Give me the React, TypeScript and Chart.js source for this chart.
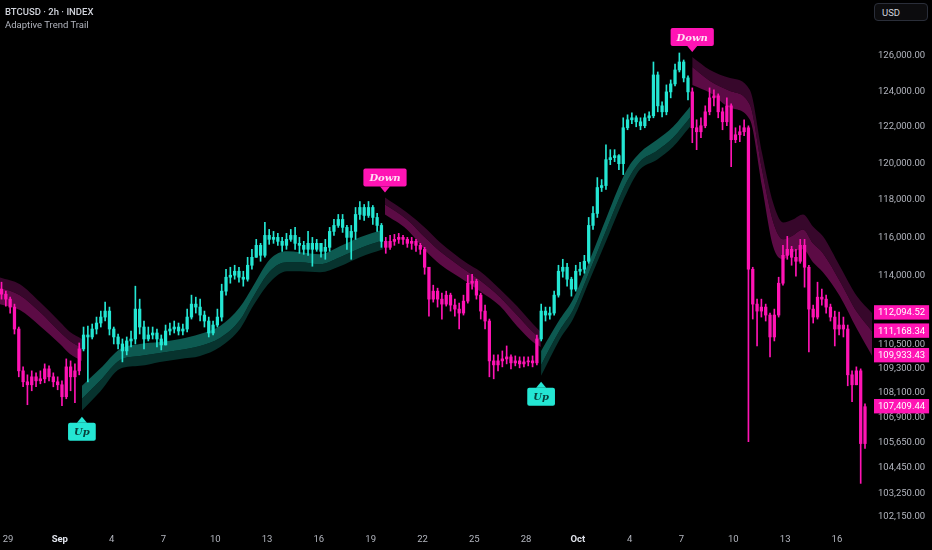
import { useEffect, useRef } from 'react';
import { Chart, registerables } from 'chart.js';

Chart.register(...registerables);

// 6h candles starting Aug 28 15:00 (day 0 = Aug 29)
const candleStartDay = -0.375;
const candleStepDays = 0.25;
const firstOpen = 113312;

const closes = [
  113055, 112799, 112391, 111275, 109176, 108633, 108486, 108880, 108682, 108781,
  109275, 108880, 108633, 108486, 107897, 109374, 108880, 109176, 110271, 110973,
  110873, 111275, 111579, 111882, 112187, 111275, 110873, 110521, 110171, 110672,
  110772, 112289, 111376, 110772, 110973, 111074, 110772, 110471, 111174, 111275,
  111376, 111174, 111275, 111882, 112544, 112391, 111984, 111680, 111074, 111477,
  111882, 113209, 113930, 114033, 114240, 113930, 113827, 114552, 114968, 115595,
  115072, 116120, 115910, 116015, 115805, 115595, 115910, 116120, 115700, 115595,
  115386, 115700, 115386, 115700, 115281, 115490, 116331, 116648, 116966, 116543,
  116015, 116331, 117232, 117605, 117179, 117605, 117072, 116648, 115805, 115490,
  115805, 115910, 116015, 115910, 115700, 115805, 115595, 115386, 114448, 112799,
  113209, 112799, 112544, 113004, 112493, 112289, 112086, 112697, 113620, 113724,
  113004, 112187, 111680, 109672, 109473, 109672, 109772, 109872, 109573, 109672,
  109523, 109622, 109672, 109573, 110772, 112187, 111984, 112086, 113004, 114240,
  114448, 113827, 113312, 114240, 114344, 114760, 116648, 117285, 118677, 118784,
  120193, 120302, 120411, 119974, 121950, 122393, 122504, 122282, 122060, 122504,
  122615, 124917, 123173, 122839, 123958, 124408, 125201, 125657, 124747, 123958,
  121950, 121728, 122060, 122839, 123621, 123733, 122839, 122282, 123173, 121288,
  121563, 121728, 121950, 114344, 112544, 112187, 112391, 111984, 110873, 111984,
  113620, 115072, 115386, 114968, 114760, 115595, 114448, 112289, 111882, 112901,
  112799, 112391, 111882, 111275, 111477, 111275, 108979, 108486, 109176, 105622,
  107409.44,
];

const highs = [
  113672, 113209, 112901, 112544, 111376, 109374, 108979, 109176, 109077, 109176,
  109523, 109424, 109077, 108880, 108682, 109772, 109672, 109523, 110571, 111376,
  111427, 111528, 111882, 112187, 112646, 112391, 111376, 111023, 110772, 110873,
  111174, 113466, 112799, 111680, 111376, 111376, 111275, 110973, 111477, 111579,
  111680, 111579, 111528, 112289, 113004, 112901, 112799, 112187, 111882, 111680,
  112289, 113569, 114344, 114448, 114552, 114448, 114240, 114968, 115386, 115910,
  115700, 116807, 116437, 116331, 116226, 116015, 116226, 116437, 116543, 116015,
  115805, 116331, 116015, 115910, 115700, 115910, 116543, 116966, 117232, 117232,
  116648, 116648, 117605, 117925, 117765, 117925, 117711, 117285, 116754, 116015,
  116120, 116173, 116226, 116120, 116015, 116015, 115910, 115700, 115490, 114448,
  113518, 113364, 113106, 113209, 113106, 112799, 112595, 113004, 114033, 114085,
  113827, 113106, 112493, 111781, 109971, 109971, 110171, 110421, 109971, 109921,
  109872, 109872, 109872, 109921, 110973, 112544, 112391, 112391, 113209, 114552,
  114864, 114656, 113930, 114552, 114708, 115072, 117072, 117658, 119215, 119107,
  121013, 120739, 120739, 120466, 122504, 122671, 122783, 122615, 122504, 122727,
  122839, 125657, 125087, 123397, 124352, 124634, 125542, 126172, 125771, 124860,
  124183, 122393, 122504, 123173, 124183, 124070, 123846, 123061, 123621, 123285,
  121950, 122060, 122393, 122060, 114448, 112799, 112799, 112544, 112086, 112289,
  113930, 115595, 116068, 115543, 115386, 115910, 115910, 114552, 112493, 113672,
  113312, 113004, 112544, 112187, 112137, 111882, 111477, 109176, 109374, 109275,
  107555,
];

const lows = [
  112799, 112442, 112086, 111023, 108880, 108387, 107506, 108191, 108387, 108535,
  108584, 108682, 108387, 108240, 107458, 107799, 108191, 107604, 108979, 110171,
  108633, 110772, 111023, 111376, 111680, 110973, 110521, 110271, 109622, 109971,
  110371, 110521, 111023, 110271, 110672, 110772, 110371, 110221, 110471, 110973,
  111074, 110973, 110973, 111124, 111781, 112086, 111680, 111376, 110873, 110973,
  111376, 111680, 113004, 113620, 113827, 113672, 113466, 113724, 114344, 114968,
  114760, 114968, 115648, 115700, 115595, 115281, 115386, 115805, 115386, 115176,
  115124, 115072, 114500, 115281, 114968, 114864, 115281, 116120, 116543, 116278,
  115386, 114864, 115910, 116966, 116913, 117072, 116701, 116331, 115490, 115176,
  115386, 115595, 115700, 115648, 115490, 115386, 115281, 115124, 114085, 111933,
  112646, 112391, 111781, 112442, 112187, 111933, 111275, 111984, 112595, 113312,
  112799, 111781, 111275, 108880, 108781, 109176, 109374, 109523, 109275, 109424,
  109325, 109374, 109424, 109374, 109473, 110672, 111680, 111781, 111984, 112901,
  113930, 113466, 112953, 113209, 114033, 114137, 114656, 116437, 117072, 118462,
  118569, 119920, 120084, 119649, 119378, 121839, 122171, 122005, 121839, 121950,
  122338, 122504, 122839, 122560, 122671, 123621, 124295, 125087, 124521, 123509,
  121123, 120739, 121398, 121950, 122671, 123173, 122504, 121839, 122060, 119812,
  121123, 121178, 121508, 105718, 111781, 110421, 111882, 111680, 109872, 110672,
  111882, 113518, 114864, 114552, 113982, 114656, 113415, 110121, 111579, 111781,
  112493, 112086, 111680, 110421, 110973, 110873, 108437, 107653, 108486, 103725,
  105383,
];

// Trend trail legs: inner edge (next to price), middle, outer edge
const leg1Days = [-0.5, 0.69, 1.85, 3.01, 3.59, 4.28];
const leg1Inner = [112544, 112238, 111427, 110521, 110021, 109672];
const leg1Mid = [113415, 113004, 112137, 111124, 110672, 110321];
const leg1Outer = [113930, 113569, 112646, 111629, 111124, 110772];

const leg2Days = [4.28, 5.33, 6.49, 7.64, 8.8, 9.96, 11.12, 12.28, 13.43, 14.19, 15.17, 16.15, 16.91, 18.07, 19.22, 20.38, 21.71];
const leg2Inner = [108436, 109275, 110271, 110521, 110621, 110772, 111023, 111427, 112391, 113466, 114864, 115281, 115229, 115124, 115543, 116015, 116437];
const leg2Mid = [107799, 108682, 109722, 109921, 110071, 110221, 110421, 110822, 111730, 112901, 114240, 114708, 114708, 114604, 114968, 115438, 115858];
const leg2Outer = [107215, 108142, 109275, 109424, 109622, 109772, 109921, 110371, 111275, 112442, 113672, 114240, 114240, 114189, 114500, 114968, 115386];

const leg3Days = [21.83, 23.1, 24.26, 25.01, 26.58, 27.33, 28.49, 29.47, 30.4, 30.85];
const leg3Inner = [117232, 116437, 115229, 114604, 113672, 113209, 112442, 111427, 110621, 110371];
const leg3Mid = [117765, 116966, 115910, 115281, 114240, 113775, 112901, 111984, 111124, 110772];
const leg3Outer = [118139, 117338, 116437, 115753, 114656, 114240, 113312, 112442, 111528, 111124];

const leg4Days = [30.87, 31.96, 32.72, 33.7, 34.68, 35.84, 36.59, 37.58, 38.51, 39.49];
const leg4Inner = [110171, 111781, 112799, 114864, 117125, 119649, 120575, 121288, 122005, 123117];
const leg4Mid = [109473, 111225, 112238, 114292, 116490, 118999, 120084, 120684, 121398, 122504];
const leg4Outer = [108929, 110772, 111781, 113827, 115910, 118408, 119649, 120193, 120904, 122005];

const leg5Days = [39.62, 40.65, 41.81, 42.96, 43.66, 44.3, 44.88, 45.45, 46.03, 46.61, 47.19, 48.17, 49.16, 50.03];
const leg5Inner = [124352, 123902, 123061, 122393, 118730, 115543, 114864, 115229, 115386, 114708, 114189, 112953, 111275, 109933.43];
const leg5Mid = [125371, 124578, 124014, 123229, 119649, 116860, 115910, 116120, 116437, 115700, 115176, 113724, 112137, 111168.34];
const leg5Outer = [125943, 125201, 124747, 124070, 120575, 117872, 116807, 116966, 117232, 116596, 116068, 114500, 112953, 112094.52];

const xTickDays = [0, 3, 6, 9, 12, 15, 18, 21, 24, 27, 30, 33, 36, 39, 42, 45, 48];
const xTickLabels = ['29', 'Sep', '4', '7', '10', '13', '16', '19', '22', '25', '28', 'Oct', '4', '7', '10', '13', '16'];

const yTicks = [126000, 124000, 122000, 120000, 118000, 116000, 114000, 110500, 109300, 108100, 106900, 105650, 104450, 103250, 102150];
const priceTags = [112094.52, 111168.34, 109933.43, 107409.44];

const TEAL = '#24e6d3';
const PINK = '#ff14b4';

const legs = [
  { up: false, days: leg1Days, inner: leg1Inner, mid: leg1Mid, outer: leg1Outer },
  { up: true, days: leg2Days, inner: leg2Inner, mid: leg2Mid, outer: leg2Outer },
  { up: false, days: leg3Days, inner: leg3Inner, mid: leg3Mid, outer: leg3Outer },
  { up: true, days: leg4Days, inner: leg4Inner, mid: leg4Mid, outer: leg4Outer },
  { up: false, days: leg5Days, inner: leg5Inner, mid: leg5Mid, outer: leg5Outer },
];

const fmt = (v: number) =>
  v.toLocaleString('en-US', { minimumFractionDigits: 2, maximumFractionDigits: 2 });

const isTag = (v: unknown) => priceTags.includes(Number(v));

// Up / Down markers at the start of each new trail leg
const signalPlugin = {
  id: 'signals',
  afterDatasetsDraw(chart: Chart) {
    const { ctx } = chart;
    const x = chart.scales.x;
    const y = chart.scales.y;
    ctx.save();
    ctx.font = 'italic bold 10px "DejaVu Serif"';
    ctx.textAlign = 'center';
    ctx.textBaseline = 'middle';
    legs.slice(1).forEach((leg) => {
      const px = x.getPixelForValue(leg.days[0]);
      const py = y.getPixelForValue(leg.outer[0]);
      const text = leg.up ? 'Up' : 'Down';
      const w = ctx.measureText(text).width + 12;
      const h = 18;
      const tip = leg.up ? py + 6 : py - 5;
      const boxTop = leg.up ? tip + 6 : tip - 6 - h;
      ctx.fillStyle = leg.up ? TEAL : PINK;
      ctx.beginPath();
      ctx.moveTo(px, tip);
      ctx.lineTo(px - 5, leg.up ? tip + 6 : tip - 6);
      ctx.lineTo(px + 5, leg.up ? tip + 6 : tip - 6);
      ctx.closePath();
      ctx.fill();
      ctx.beginPath();
      ctx.roundRect(px - w / 2, boxTop, w, h, 2);
      ctx.fill();
      ctx.fillStyle = leg.up ? '#07403b' : '#ffe0f4';
      ctx.fillText(text, px, boxTop + h / 2 + 1);
    });
    ctx.restore();
  },
};

export default function App() {
  const chartRef = useRef<HTMLCanvasElement | null>(null);

  useEffect(() => {
    const ctx = chartRef.current?.getContext('2d');
    if (!ctx) return;

    const days = closes.map((_, i) => candleStartDay + i * candleStepDays);
    const opens = closes.map((_, i) => (i === 0 ? firstOpen : closes[i - 1]));
    const colors = days.map((d) => {
      let up = legs[0].up;
      legs.forEach((leg) => {
        if (d >= leg.days[0]) up = leg.up;
      });
      return up ? TEAL : PINK;
    });

    const bandSets: any[] = [];
    legs.forEach((leg) => {
      const base = {
        type: 'line' as const,
        borderWidth: 0,
        borderColor: 'transparent',
        pointRadius: 0,
        cubicInterpolationMode: 'monotone' as const,
        order: 10,
      };
      bandSets.push({ ...base, data: leg.days.map((d, k) => ({ x: d, y: leg.inner[k] })), fill: false });
      bandSets.push({
        ...base,
        data: leg.days.map((d, k) => ({ x: d, y: leg.mid[k] })),
        fill: '-1',
        backgroundColor: leg.up ? '#0d5a51' : '#5c0b45',
      });
      bandSets.push({
        ...base,
        data: leg.days.map((d, k) => ({ x: d, y: leg.outer[k] })),
        fill: '-1',
        backgroundColor: leg.up ? '#07332e' : '#37072b',
      });
    });

    const chart = new Chart(ctx, {
      type: 'bar',
      data: {
        datasets: [
          {
            type: 'bar',
            data: days.map((d, i) => ({ x: d, y: [lows[i], highs[i]] })) as any,
            backgroundColor: colors,
            barThickness: 1,
            grouped: false,
            order: 1,
          },
          {
            type: 'bar',
            data: days.map((d, i) => ({ x: d, y: [opens[i], closes[i]] })) as any,
            backgroundColor: colors,
            barThickness: 2.6,
            minBarLength: 1,
            grouped: false,
            order: 0,
          },
          ...bandSets,
        ],
      },
      options: {
        animation: false,
        responsive: true,
        maintainAspectRatio: false,
        events: [],
        layout: { padding: 0 },
        plugins: {
          legend: { display: false },
          tooltip: { enabled: false },
        },
        scales: {
          x: {
            type: 'linear',
            min: -0.463,
            max: 50.03,
            offset: false,
            grid: { display: false, drawTicks: false },
            border: { display: false },
            afterBuildTicks: (scale: any) => {
              scale.ticks = xTickDays.map((value) => ({ value }));
            },
            afterFit: (scale: any) => {
              scale.height = 23;
              scale.paddingLeft = 0;
              scale.paddingRight = 0;
            },
            ticks: {
              autoSkip: false,
              maxRotation: 0,
              padding: 7,
              callback: (_v: any, i: number) => xTickLabels[i],
              color: (c: any) => (/^[A-Z]/.test(xTickLabels[c.index] || '') ? '#e0e3eb' : '#b2b5be'),
              font: (c: any) => ({
                family: 'Roboto',
                size: 9.5,
                weight: /^[A-Z]/.test(xTickLabels[c.index] || '') ? 'bold' : 'normal',
              }),
            },
          },
          y: {
            type: 'logarithmic',
            position: 'right',
            min: 101686,
            max: 129252,
            grid: { display: false, drawTicks: false },
            border: { display: false },
            afterBuildTicks: (scale: any) => {
              scale.ticks = [...yTicks, ...priceTags].map((value) => ({ value }));
            },
            afterFit: (scale: any) => {
              scale.width = 60;
              scale.paddingTop = 0;
              scale.paddingBottom = 0;
            },
            ticks: {
              autoSkip: false,
              padding: 6,
              callback: (v: any) => fmt(Number(v)),
              color: (c: any) => (isTag(c.tick?.value) ? '#ffffff' : '#b2b5be'),
              showLabelBackdrop: (c: any) => isTag(c.tick?.value),
              backdropColor: PINK,
              backdropPadding: { top: 2, bottom: 1, left: 4, right: 4 },
              font: { family: 'Roboto', size: 9.5 },
            },
          },
        },
      },
      plugins: [signalPlugin],
    } as any);

    return () => {
      chart.destroy();
    };
  }, []);

  return (
    <div
      style={{
        position: 'fixed',
        left: 0,
        top: 0,
        width: 932,
        height: 550,
        background: '#000',
        fontFamily: 'Roboto',
      }}
    >
      <canvas ref={chartRef}></canvas>
      <div style={{ position: 'absolute', left: 5, top: 6, fontSize: 9.5, fontWeight: 500, color: '#d1d4dc' }}>
        BTCUSD · 2h · INDEX
      </div>
      <div style={{ position: 'absolute', left: 5, top: 19, fontSize: 9.5, color: '#b2b5be' }}>
        Adaptive Trend Trail
      </div>
      <div
        style={{
          position: 'absolute',
          left: 874,
          top: 3,
          width: 54,
          height: 18,
          border: '1px solid #2a2e39',
          borderRadius: 4,
          background: '#0c0c0e',
          color: '#d1d4dc',
          fontSize: 9.5,
          lineHeight: '18px',
          paddingLeft: 7,
          boxSizing: 'border-box',
        }}
      >
        USD
      </div>
    </div>
  );
}
